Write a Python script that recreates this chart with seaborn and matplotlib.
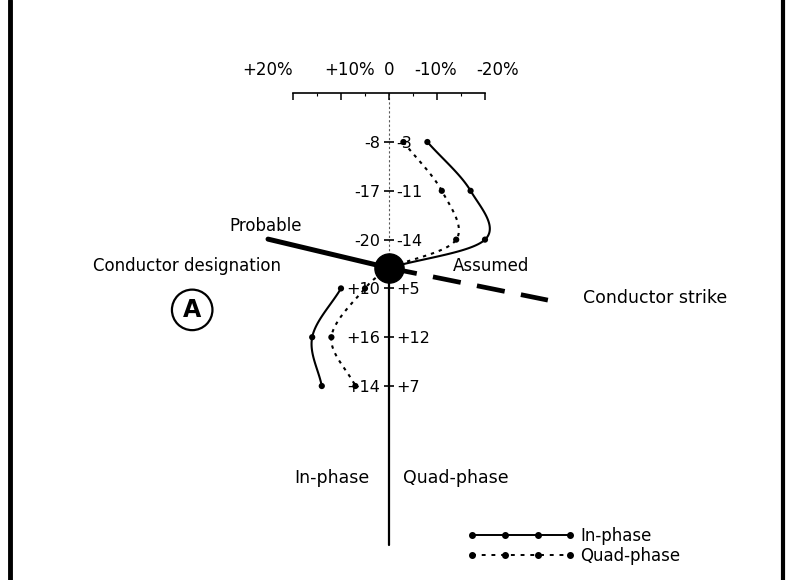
import numpy as np
import pandas as pd
import matplotlib
matplotlib.use("Agg")
import matplotlib.pyplot as plt
import matplotlib.transforms as mtransforms
from matplotlib.lines import Line2D
import seaborn as sns

# ---- data -------------------------------------------------------------
stations = [0, 1, 2, 3, 4, 5]                 # station rows (top to bottom)
inphase = [-8, -17, -20, 10, 16, 14]          # in-phase response, %
quadphase = [-3, -11, -14, 5, 12, 7]          # quad-phase response, %
conductor_x = 0
conductor_depth = 2.58
scale_ticks = [20, 10, 0, -10, -20]
scale_labels = ["+20%", "+10%", "0", "-10%", "-20%"]
scale_minor = [15, 5, -5, -15]
legend_labels = ["In-phase", "Quad-phase"]

# ---- style ------------------------------------------------------------
sns.set_theme(style="white")
plt.rcParams["font.family"] = ["DejaVu Sans"]
plt.rcParams["text.color"] = "black"

fig = plt.figure(figsize=(7.99, 5.8), dpi=100)
ax = fig.add_axes([0, 0, 1, 1])
ax.set_xlim(81.04, -85.42)
ax.set_ylim(8.975, -2.91)
ax.axis("off")


def catmull_rom(xs, ys, n=40):
    P = np.column_stack([xs, ys]).astype(float)
    P = np.vstack([2 * P[0] - P[1], P, 2 * P[-1] - P[-2]])
    out = []
    t = np.linspace(0, 1, n)[:, None]
    for i in range(1, len(P) - 2):
        p0, p1, p2, p3 = P[i - 1], P[i], P[i + 1], P[i + 2]
        seg = 0.5 * (2 * p1 + (-p0 + p2) * t + (2 * p0 - 5 * p1 + 4 * p2 - p3) * t ** 2
                     + (-p0 + 3 * p1 - 3 * p2 + p3) * t ** 3)
        out.append(seg)
    c = np.vstack(out)
    return c[:, 0], c[:, 1]


# central vertical line (upper faint, lower solid)
ax.plot([0, 0], [-1, conductor_depth], color="0.35", lw=0.8, ls=(0, (2, 2)), zorder=1)
ax.plot([0, 0], [conductor_depth, 8.26], color="black", lw=1.6, zorder=1)
ax.scatter([0] * len(stations), stations, marker="_", s=50, color="black", lw=1.2, zorder=2)

# strike lines
ax.plot([25.2, conductor_x], [1.99, conductor_depth], color="black", lw=3.6,
        solid_capstyle="round", zorder=3)
ax.plot([conductor_x, -33.1], [conductor_depth, 3.24], color="black", lw=3.4,
        ls=(0, (6, 3.5)), zorder=3)

# curves
n = len(stations) // 2
curves = [
    (inphase[:n] + [conductor_x], stations[:n] + [conductor_depth], "-"),
    (inphase[n:], stations[n:], "-"),
    (quadphase[:n] + [conductor_x], stations[:n] + [conductor_depth], (0, (1.6, 2.4))),
    ([conductor_x] + quadphase[n:], [conductor_depth] + stations[n:], (0, (1.6, 2.4))),
]
for xs, ys, ls in curves:
    cx, cy = catmull_rom(xs, ys)
    ax.plot(cx, cy, color="black", lw=1.5, ls=ls, zorder=2)

df = pd.DataFrame({
    "station": stations * 2,
    "value": inphase + quadphase,
    "component": ["In-phase"] * len(stations) + ["Quad-phase"] * len(stations),
})
sns.scatterplot(data=df, x="value", y="station", color="black", s=20,
                edgecolor="none", legend=False, ax=ax, zorder=4)

# conductor
ax.plot([conductor_x], [conductor_depth], marker="o", ms=21, color="black", zorder=5)

# value labels
for s, a, b in zip(stations, inphase, quadphase):
    ax.text(1.8, s, f"{a:+d}", ha="right", va="center_baseline", fontsize=11.5)
    ax.text(-1.6, s, f"{b:+d}", ha="left", va="center_baseline", fontsize=11.5)

# annotations
ax.text(25.6, 1.72, "Probable", ha="center", va="center", fontsize=12)
ax.text(42.1, 2.54, "Conductor designation", ha="center", va="center", fontsize=12)
ax.text(-13.3, 2.55, "Assumed", ha="left", va="center", fontsize=12)
ax.text(-40.4, 3.2, "Conductor strike", ha="left", va="center", fontsize=12.5)
ax.text(4.0, 6.89, "In-phase", ha="right", va="center", fontsize=12.5)
ax.text(-2.9, 6.89, "Quad-phase", ha="left", va="center", fontsize=12.5)
ax.text(41.0, 3.44, "A", ha="center", va="center", fontsize=17, fontweight="bold",
        bbox=dict(boxstyle="circle,pad=0.35", fc="white", ec="black", lw=1.6))

# border lines
ax.plot([0.0125, 0.0125], [0, 1], transform=ax.transAxes, color="black", lw=3.5)
ax.plot([0.98, 0.98], [0, 1], transform=ax.transAxes, color="black", lw=3.0)

# top percentage scale
fig.canvas.draw()
inv = fig.transFigure.inverted()
p1 = inv.transform(ax.transData.transform((scale_ticks[0], -1)))
p2 = inv.transform(ax.transData.transform((scale_ticks[-1], -1)))
ax_s = fig.add_axes([p1[0], p1[1], p2[0] - p1[0], 0.0005])
ax_s.set_facecolor("none")
ax_s.set_xlim(scale_ticks[0], scale_ticks[-1])
ax_s.set_yticks([])
for side in ["left", "right", "top"]:
    ax_s.spines[side].set_visible(False)
ax_s.spines["bottom"].set_color("black")
ax_s.spines["bottom"].set_linewidth(1.2)
ax_s.set_xticks(scale_ticks)
ax_s.set_xticklabels(scale_labels)
ax_s.set_xticks(scale_minor, minor=True)
ax_s.tick_params(axis="x", which="both", direction="out", bottom=True, top=False,
                 labelbottom=False, labeltop=True, color="black", labelcolor="black")
ax_s.tick_params(axis="x", which="major", length=5, width=1.1, labelsize=12, pad=5)
ax_s.tick_params(axis="x", which="minor", length=2.5, width=0.8)
# spread the crowded scale labels as in the hand-lettered original
label_style = [("right", 0), ("center", 9), ("center", 0), ("center", -1), ("left", -9)]
for lab, (ha, dx) in zip(ax_s.get_xticklabels(), label_style):
    lab.set_ha(ha)
    lab.set_transform(lab.get_transform()
                      + mtransforms.ScaledTranslation(dx / 100, 0, fig.dpi_scale_trans))

# legend
handles = [
    Line2D([], [], color="black", lw=1.4, marker="o", ms=4),
    Line2D([], [], color="black", lw=1.4, ls=(0, (2, 3)), marker="o", ms=4),
]
ax.legend(handles, legend_labels, loc="center left", bbox_to_anchor=(-16.25, 8.28),
          bbox_transform=ax.transData, frameon=False, handlelength=6.5, numpoints=4,
          fontsize=12, handletextpad=0.3, labelspacing=0.15, borderpad=0, borderaxespad=0)

fig.savefig("out.png", dpi=100)
